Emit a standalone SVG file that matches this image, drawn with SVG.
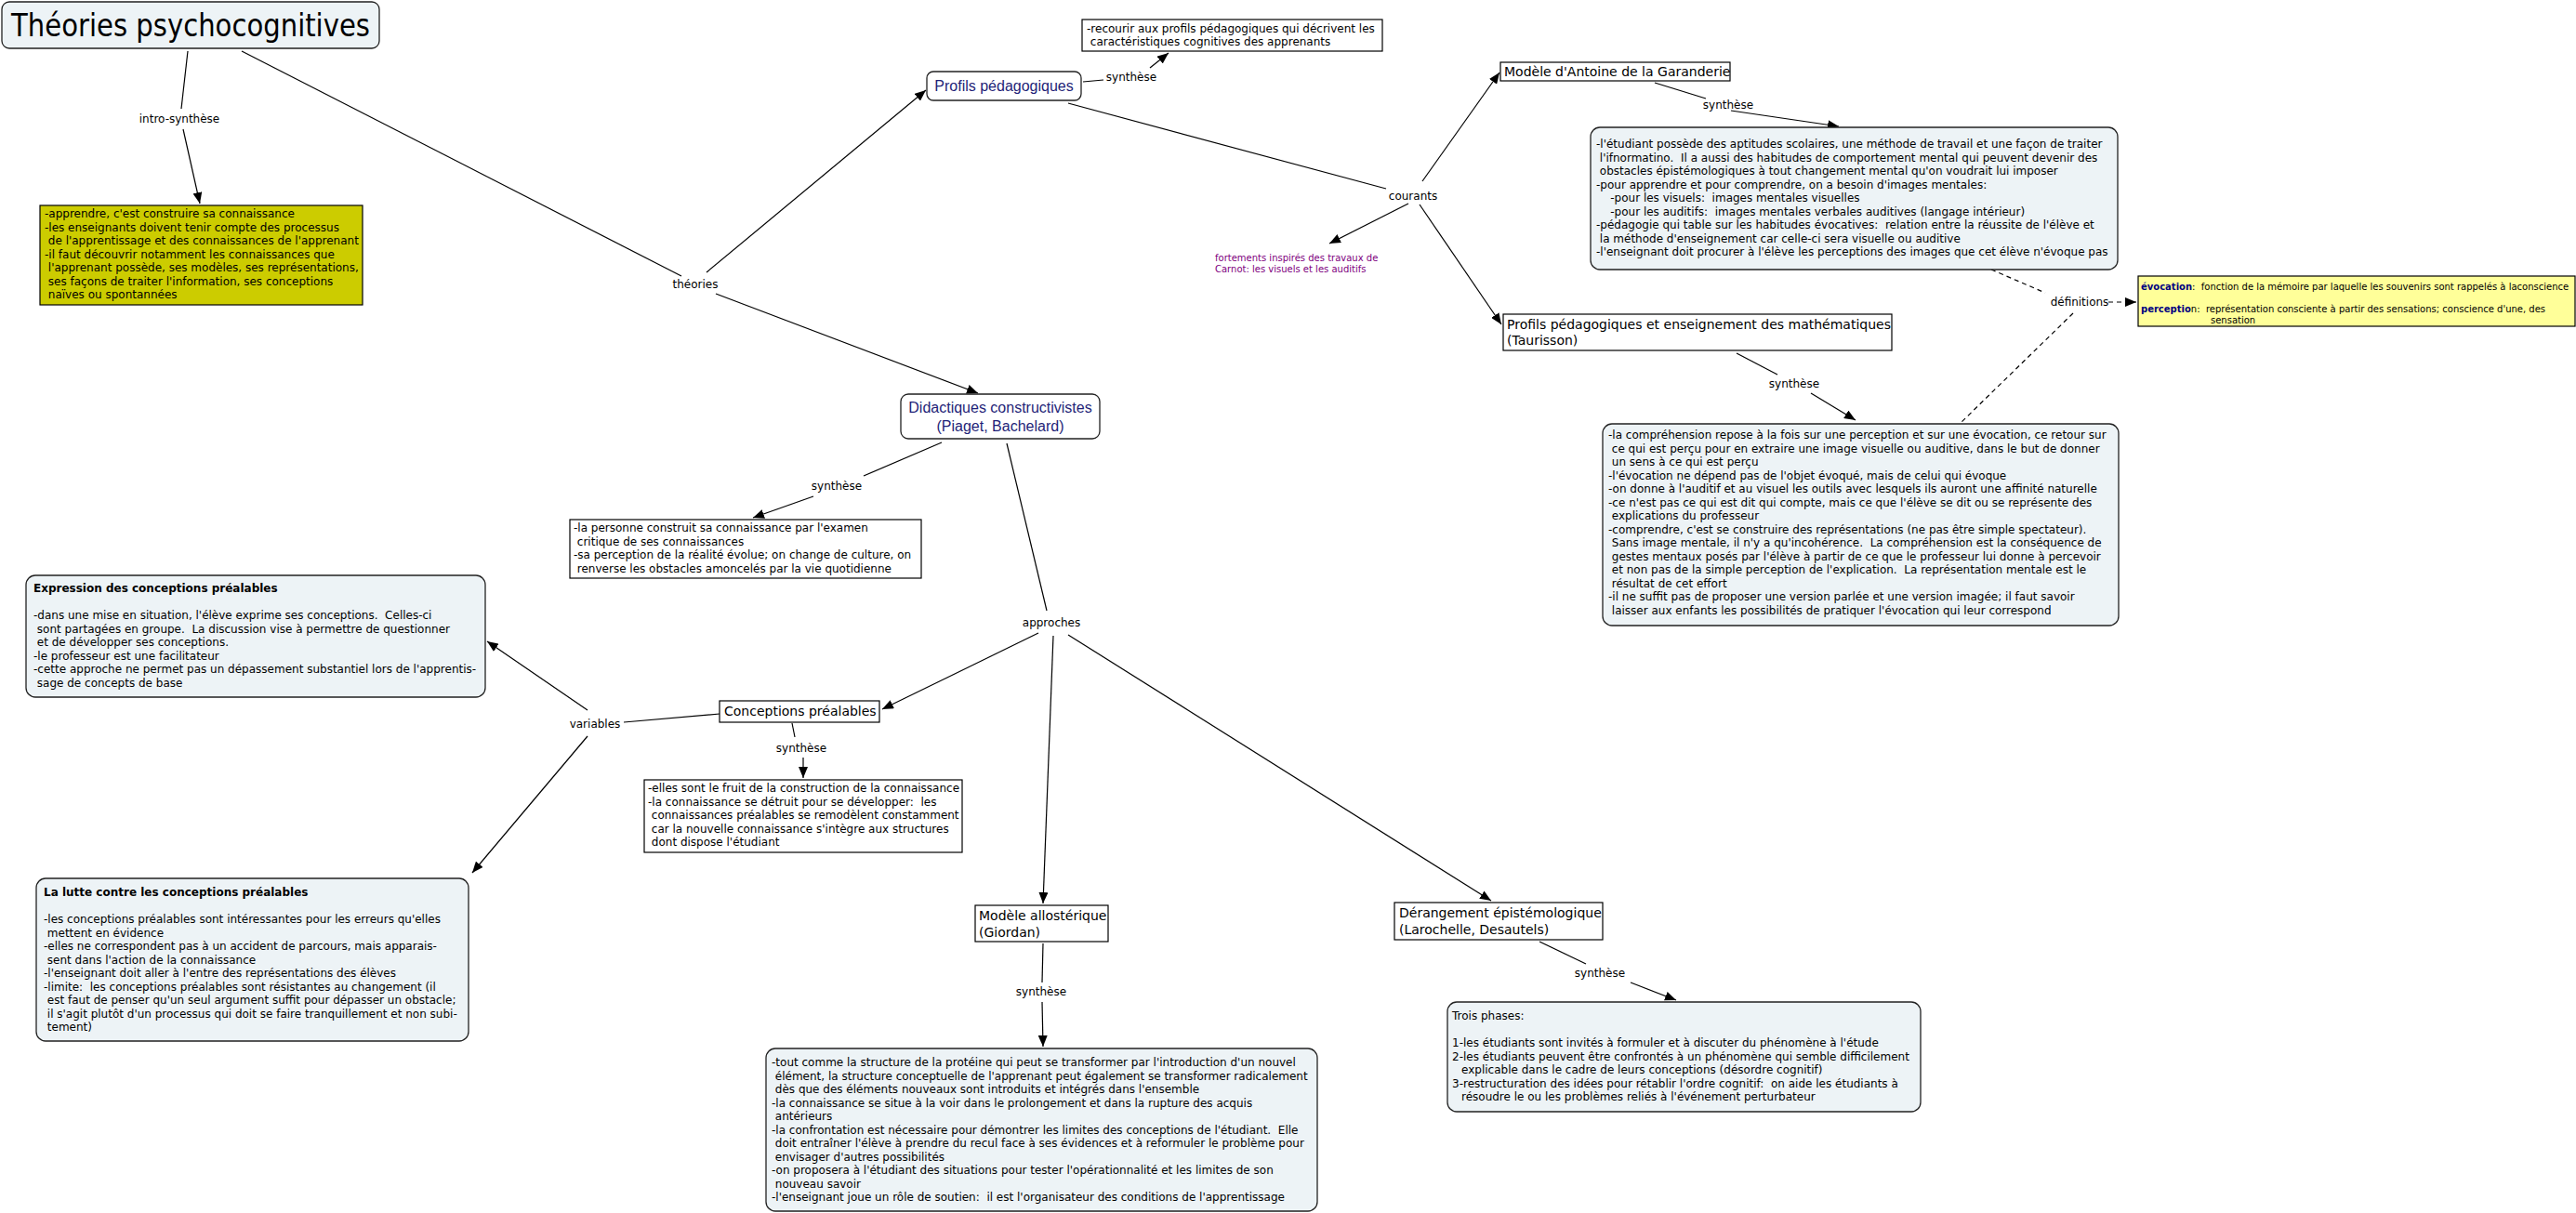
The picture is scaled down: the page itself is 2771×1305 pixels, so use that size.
<svg xmlns="http://www.w3.org/2000/svg" width="2771" height="1305" viewBox="0 0 2771 1305">
<style>
.t{font-family:"DejaVu Sans",Verdana,sans-serif;font-size:12px;fill:#000;white-space:pre}
.n14{font-size:14px}
.lab{font-family:"DejaVu Sans",Verdana,sans-serif;font-size:12px;fill:#000;text-anchor:middle}
.nv{font-family:"Liberation Sans",Arial,sans-serif;font-size:16px;fill:#1f1f78;text-anchor:middle}
.b{font-weight:bold}
.pur{font-family:"DejaVu Sans",Verdana,sans-serif;font-size:10px;fill:#800080}
.def{font-family:"DejaVu Sans",Verdana,sans-serif;font-size:10px;fill:#000;white-space:pre}
.bn{font-weight:bold;fill:#000080}
.box{fill:#fff;stroke:#000;stroke-width:1.2}
.rbox{fill:#edf3f6;stroke:#222;stroke-width:1.3}
.rw{fill:#fff;stroke:#222;stroke-width:1.3}
.ln{stroke:#000;stroke-width:1.2;fill:none}
.ar{marker-end:url(#arr)}
.dash{stroke-dasharray:5 4}
</style>
<defs>
<marker id="arr" viewBox="0 0 12 10" refX="12" refY="5" markerWidth="12" markerHeight="10" markerUnits="userSpaceOnUse" orient="auto"><path d="M0,0 L12,5 L0,10 z" fill="#000"/></marker>
</defs>
<rect width="2771" height="1305" fill="#fff"/>

<g id="connectors">
<path class="ln" d="M202,55 L195,117"/>
<path class="ln ar" d="M197,139 L215,219"/>
<path class="ln" d="M260,55 L733,297"/>
<path class="ln ar" d="M760,293 L996,97"/>
<path class="ln ar" d="M770,316 L1052,423"/>
<path class="ln" d="M1165,88 L1187,86"/>
<path class="ln ar" d="M1237,73 L1257,57"/>
<path class="ln" d="M1149,111 L1491,203"/>
<path class="ln ar" d="M1530,195 L1613,78"/>
<path class="ln ar" d="M1515,219 L1430,262"/>
<path class="ln ar" d="M1527,220 L1615,349"/>
<path class="ln" d="M1780,89 L1835,106"/>
<path class="ln ar" d="M1862,119 L1978,136"/>
<path class="ln dash" d="M2142,290 L2200,315"/>
<path class="ln dash ar" d="M2268,325 L2298,325"/>
<path class="ln dash" d="M2230,337 L2109,455"/>
<path class="ln" d="M1868,380 L1912,403"/>
<path class="ln ar" d="M1948,423 L1996,452"/>
<path class="ln" d="M1013,476 L929,512"/>
<path class="ln ar" d="M875,534 L810,557"/>
<path class="ln" d="M1083,477 L1126,657"/>
<path class="ln ar" d="M1117,681 L949,763"/>
<path class="ln ar" d="M1133,684 L1122,972"/>
<path class="ln ar" d="M1149,683 L1604,969"/>
<path class="ln" d="M774,768 L671,777"/>
<path class="ln ar" d="M632,764 L524,690"/>
<path class="ln ar" d="M632,792 L508,939"/>
<path class="ln" d="M852,778 L855,793"/>
<path class="ln ar" d="M864,815 L864,837"/>
<path class="ln" d="M1122,1015 L1121,1057"/>
<path class="ln ar" d="M1121,1078 L1122,1126"/>
<path class="ln" d="M1656,1013 L1706,1037"/>
<path class="ln ar" d="M1754,1057 L1803,1076"/>
<text class="lab" x="193" y="132">intro-synthèse</text>
<text class="lab" x="748" y="310">théories</text>
<text class="lab" x="1217" y="87">synthèse</text>
<text class="lab" x="1520" y="215">courants</text>
<text class="lab" x="1859" y="117">synthèse</text>
<text class="lab" x="2237" y="329">définitions</text>
<text class="lab" x="1930" y="417">synthèse</text>
<text class="lab" x="900" y="527">synthèse</text>
<text class="lab" x="1131" y="674">approches</text>
<text class="lab" x="640" y="783">variables</text>
<text class="lab" x="862" y="809">synthèse</text>
<text class="lab" x="1120" y="1071">synthèse</text>
<text class="lab" x="1721" y="1051">synthèse</text>
</g>

<g id="n-title">
<rect x="2" y="2" width="406" height="50" rx="8" class="rbox"/>
<text x="205" y="39" text-anchor="middle" font-family="DejaVu Sans, sans-serif" font-size="33" textLength="386" lengthAdjust="spacingAndGlyphs">Théories psychocognitives</text>
</g>

<g id="n-intro">
<rect x="43" y="221" width="347" height="107" fill="#cccc00" stroke="#000" stroke-width="1.2"/>
<text class="t"><tspan x="48" y="234">-apprendre, c'est construire sa connaissance</tspan><tspan x="48" y="248.5">-les enseignants doivent tenir compte des processus</tspan><tspan x="48" y="263"> de l'apprentissage et des connaissances de l'apprenant</tspan><tspan x="48" y="277.5">-il faut découvrir notamment les connaissances que</tspan><tspan x="48" y="292"> l'apprenant possède, ses modèles, ses représentations,</tspan><tspan x="48" y="306.5"> ses façons de traiter l'information, ses conceptions</tspan><tspan x="48" y="321"> naïves ou spontannées</tspan></text>
</g>

<g id="n-profils">
<rect x="997" y="77" width="166" height="31" rx="7" class="rw"/>
<text class="nv" x="1080" y="98">Profils pédagogiques</text>
</g>

<g id="n-recourir">
<rect x="1164" y="21" width="323" height="34" class="box"/>
<text class="t"><tspan x="1169" y="35">-recourir aux profils pédagogiques qui décrivent les</tspan><tspan x="1169" y="49"> caractéristiques cognitives des apprenants</tspan></text>
</g>

<g id="n-fortements">
<text class="pur"><tspan x="1307" y="281">fortements inspirés des travaux de</tspan><tspan x="1307" y="293">Carnot:  les visuels et les auditifs</tspan></text>
</g>

<g id="n-antoine">
<rect x="1614" y="67" width="247" height="20" class="box"/>
<text class="t n14" x="1618" y="82">Modèle d'Antoine de la Garanderie</text>
</g>

<g id="n-antoine-syn">
<rect x="1711" y="137" width="567" height="153" rx="10" class="rbox"/>
<text class="t"><tspan x="1717" y="159">-l'étudiant possède des aptitudes scolaires, une méthode de travail et une façon de traiter</tspan><tspan x="1717" y="173.5"> l'ifnormatino.  Il a aussi des habitudes de comportement mental qui peuvent devenir des</tspan><tspan x="1717" y="188"> obstacles épistémologiques à tout changement mental qu'on voudrait lui imposer</tspan><tspan x="1717" y="202.5">-pour apprendre et pour comprendre, on a besoin d'images mentales:</tspan><tspan x="1717" y="217">    -pour les visuels:  images mentales visuelles</tspan><tspan x="1717" y="231.5">    -pour les auditifs:  images mentales verbales auditives (langage intérieur)</tspan><tspan x="1717" y="246">-pédagogie qui table sur les habitudes évocatives:  relation entre la réussite de l'élève et</tspan><tspan x="1717" y="260.5"> la méthode d'enseignement car celle-ci sera visuelle ou auditive</tspan><tspan x="1717" y="275">-l'enseignant doit procurer à l'élève les perceptions des images que cet élève n'évoque pas</tspan></text>
</g>

<g id="n-definitions">
<rect x="2300" y="297" width="470" height="54" fill="#ffff99" stroke="#000" stroke-width="1.2"/>
<text class="def"><tspan x="2303" y="312"><tspan class="bn">évocation</tspan>:  fonction de la mémoire par laquelle les souvenirs sont rappelés à laconscience</tspan><tspan x="2303" y="336"><tspan class="bn">perceptio</tspan>n:  représentation consciente à partir des sensations; conscience d'une, des</tspan><tspan x="2378" y="348">sensation</tspan></text>
</g>

<g id="n-taurisson">
<rect x="1617" y="338" width="418" height="39" class="box"/>
<text class="t n14"><tspan x="1621" y="354">Profils pédagogiques et enseignement des mathématiques</tspan><tspan x="1621" y="371">(Taurisson)</tspan></text>
</g>

<g id="n-taurisson-syn">
<rect x="1724" y="456" width="555" height="217" rx="10" class="rbox"/>
<text class="t"><tspan x="1730" y="472">-la compréhension repose à la fois sur une perception et sur une évocation, ce retour sur</tspan><tspan x="1730" y="486.5"> ce qui est perçu pour en extraire une image visuelle ou auditive, dans le but de donner</tspan><tspan x="1730" y="501"> un sens à ce qui est perçu</tspan><tspan x="1730" y="515.5">-l'évocation ne dépend pas de l'objet évoqué, mais de celui qui évoque</tspan><tspan x="1730" y="530">-on donne à l'auditif et au visuel les outils avec lesquels ils auront une affinité naturelle</tspan><tspan x="1730" y="544.5">-ce n'est pas ce qui est dit qui compte, mais ce que l'élève se dit ou se représente des</tspan><tspan x="1730" y="559"> explications du professeur</tspan><tspan x="1730" y="573.5">-comprendre, c'est se construire des représentations (ne pas être simple spectateur).</tspan><tspan x="1730" y="588"> Sans image mentale, il n'y a qu'incohérence.  La compréhension est la conséquence de</tspan><tspan x="1730" y="602.5"> gestes mentaux posés par l'élève à partir de ce que le professeur lui donne à percevoir</tspan><tspan x="1730" y="617"> et non pas de la simple perception de l'explication.  La représentation mentale est le</tspan><tspan x="1730" y="631.5"> résultat de cet effort</tspan><tspan x="1730" y="646">-il ne suffit pas de proposer une version parlée et une version imagée; il faut savoir</tspan><tspan x="1730" y="660.5"> laisser aux enfants les possibilités de pratiquer l'évocation qui leur correspond</tspan></text>
</g>

<g id="n-didactiques">
<rect x="969" y="424" width="214" height="48" rx="8" class="rw"/>
<text class="nv"><tspan x="1076" y="444">Didactiques constructivistes</tspan><tspan x="1076" y="464">(Piaget, Bachelard)</tspan></text>
</g>

<g id="n-didactiques-syn">
<rect x="613" y="559" width="378" height="63" class="box"/>
<text class="t"><tspan x="617" y="572">-la personne construit sa connaissance par l'examen</tspan><tspan x="617" y="586.5"> critique de ses connaissances</tspan><tspan x="617" y="601">-sa perception de la réalité évolue; on change de culture, on</tspan><tspan x="617" y="615.5"> renverse les obstacles amoncelés par la vie quotidienne</tspan></text>
</g>

<g id="n-expression">
<rect x="28" y="619" width="494" height="131" rx="10" class="rbox"/>
<text class="t"><tspan x="36" y="637" class="b">Expression des conceptions préalables</tspan><tspan x="36" y="666">-dans une mise en situation, l'élève exprime ses conceptions.  Celles-ci</tspan><tspan x="36" y="680.5"> sont partagées en groupe.  La discussion vise à permettre de questionner</tspan><tspan x="36" y="695"> et de développer ses conceptions.</tspan><tspan x="36" y="709.5">-le professeur est une facilitateur</tspan><tspan x="36" y="724">-cette approche ne permet pas un dépassement substantiel lors de l'apprentis-</tspan><tspan x="36" y="738.5"> sage de concepts de base</tspan></text>
</g>

<g id="n-lutte">
<rect x="39" y="945" width="465" height="175" rx="10" class="rbox"/>
<text class="t"><tspan x="47" y="964" class="b">La lutte contre les conceptions préalables</tspan><tspan x="47" y="993">-les conceptions préalables sont intéressantes pour les erreurs qu'elles</tspan><tspan x="47" y="1007.5"> mettent en évidence</tspan><tspan x="47" y="1022">-elles ne correspondent pas à un accident de parcours, mais apparais-</tspan><tspan x="47" y="1036.5"> sent dans l'action de la connaissance</tspan><tspan x="47" y="1051">-l'enseignant doit aller à l'entre des représentations des élèves</tspan><tspan x="47" y="1065.5">-limite:  les conceptions préalables sont résistantes au changement (il</tspan><tspan x="47" y="1080"> est faut de penser qu'un seul argument suffit pour dépasser un obstacle;</tspan><tspan x="47" y="1094.5"> il s'agit plutôt d'un processus qui doit se faire tranquillement et non subi-</tspan><tspan x="47" y="1109"> tement)</tspan></text>
</g>

<g id="n-conceptions">
<rect x="774" y="754" width="172" height="23" class="box"/>
<text class="t n14" x="779" y="770">Conceptions préalables</text>
</g>

<g id="n-conceptions-syn">
<rect x="693" y="839" width="342" height="78" class="box"/>
<text class="t"><tspan x="697" y="852">-elles sont le fruit de la construction de la connaissance</tspan><tspan x="697" y="866.5">-la connaissance se détruit pour se développer:  les</tspan><tspan x="697" y="881"> connaissances préalables se remodèlent constamment</tspan><tspan x="697" y="895.5"> car la nouvelle connaissance s'intègre aux structures</tspan><tspan x="697" y="910"> dont dispose l'étudiant</tspan></text>
</g>

<g id="n-allosterique">
<rect x="1049" y="974" width="143" height="39" class="box"/>
<text class="t n14"><tspan x="1053" y="990">Modèle allostérique</tspan><tspan x="1053" y="1008">(Giordan)</tspan></text>
</g>

<g id="n-allosterique-syn">
<rect x="824" y="1128" width="593" height="175" rx="10" class="rbox"/>
<text class="t"><tspan x="830" y="1147">-tout comme la structure de la protéine qui peut se transformer par l'introduction d'un nouvel</tspan><tspan x="830" y="1161.5"> élément, la structure conceptuelle de l'apprenant peut également se transformer radicalement</tspan><tspan x="830" y="1176"> dès que des éléments nouveaux sont introduits et intégrés dans l'ensemble</tspan><tspan x="830" y="1190.5">-la connaissance se situe à la voir dans le prolongement et dans la rupture des acquis</tspan><tspan x="830" y="1205"> antérieurs</tspan><tspan x="830" y="1219.5">-la confrontation est nécessaire pour démontrer les limites des conceptions de l'étudiant.  Elle</tspan><tspan x="830" y="1234"> doit entraîner l'élève à prendre du recul face à ses évidences et à reformuler le problème pour</tspan><tspan x="830" y="1248.5"> envisager d'autres possibilités</tspan><tspan x="830" y="1263">-on proposera à l'étudiant des situations pour tester l'opérationnalité et les limites de son</tspan><tspan x="830" y="1277.5"> nouveau savoir</tspan><tspan x="830" y="1292">-l'enseignant joue un rôle de soutien:  il est l'organisateur des conditions de l'apprentissage</tspan></text>
</g>

<g id="n-derangement">
<rect x="1500" y="971" width="224" height="40" class="box"/>
<text class="t n14"><tspan x="1505" y="987">Dérangement épistémologique</tspan><tspan x="1505" y="1005">(Larochelle, Desautels)</tspan></text>
</g>

<g id="n-derangement-syn">
<rect x="1557" y="1078" width="509" height="118" rx="10" class="rbox"/>
<text class="t"><tspan x="1562" y="1097">Trois phases:</tspan><tspan x="1562" y="1126">1-les étudiants sont invités à formuler et à discuter du phénomène à l'étude</tspan><tspan x="1562" y="1140.5">2-les étudiants peuvent être confrontés à un phénomène qui semble difficilement</tspan><tspan x="1572" y="1155">explicable dans le cadre de leurs conceptions (désordre cognitif)</tspan><tspan x="1562" y="1169.5">3-restructuration des idées pour rétablir l'ordre cognitif:  on aide les étudiants à</tspan><tspan x="1572" y="1184">résoudre le ou les problèmes reliés à l'événement perturbateur</tspan></text>
</g>
</svg>
